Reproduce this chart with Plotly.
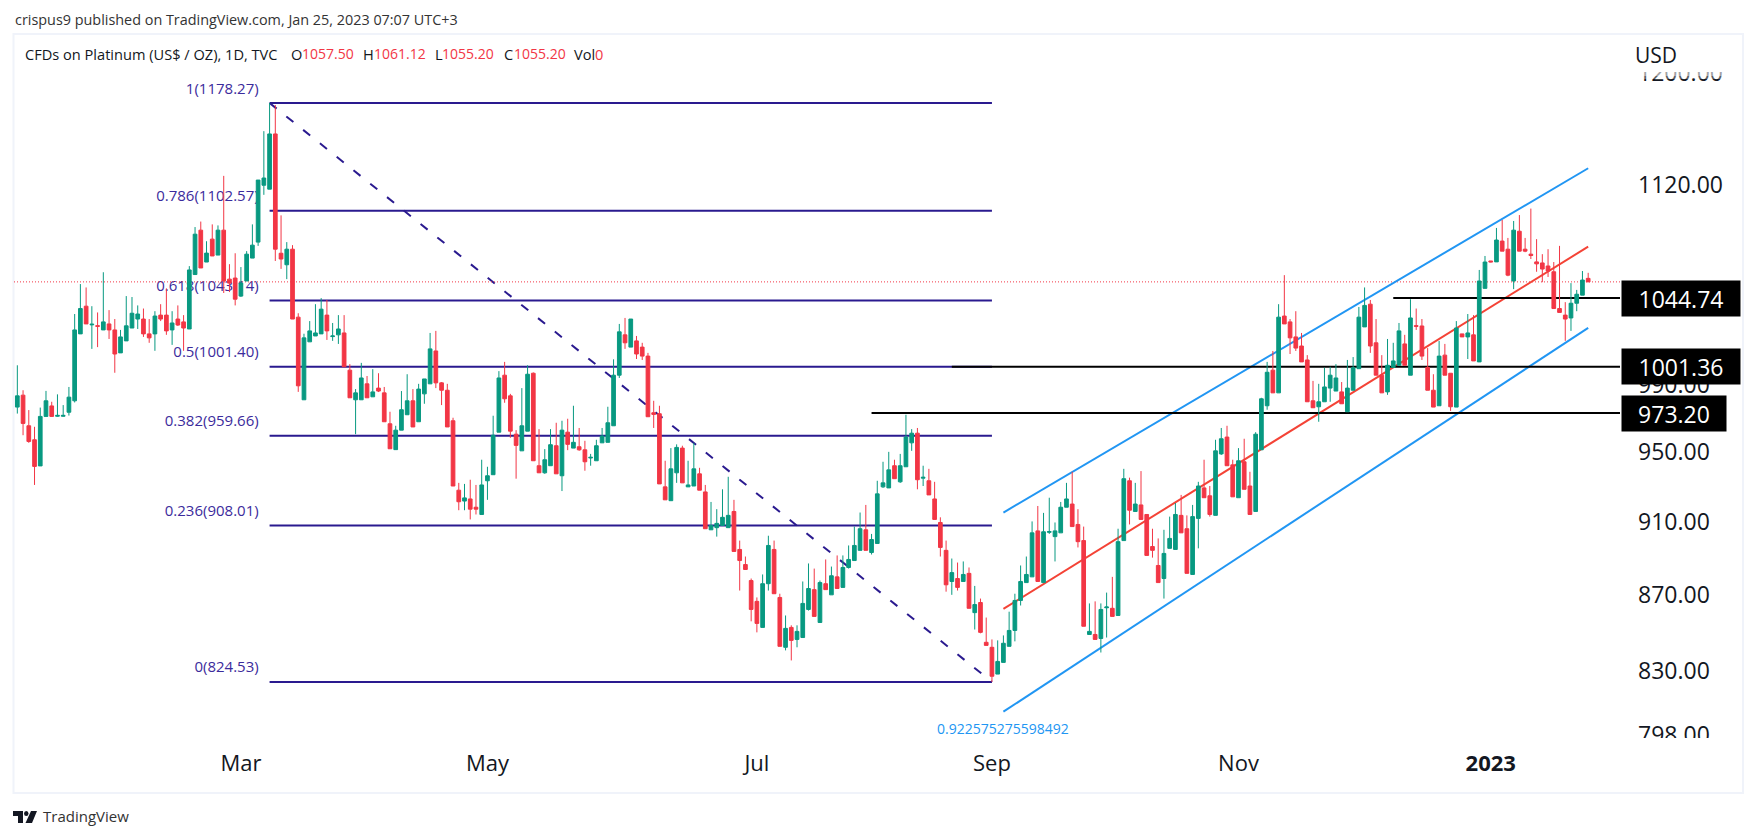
import math
import plotly.graph_objects as go

# daily bars
opens = [
    957, 976.8, 984, 965.6, 957.3, 942, 971.2, 977.5, 971.3, 971.3,
    973.7, 980.6, 1021.9, 1039.5, 1027.6, 1027.1, 1024.4, 1028.2, 1024.4, 1010,
    1017.5, 1025.6, 1031.3, 1031.3, 1021.9, 1021.9, 1033.8, 1033.8, 1024.4, 1031.3,
    1029.5, 1025, 1060, 1089.4, 1068.2, 1083.4, 1072.8, 1089.4, 1057, 1057.7,
    1046, 1055.8, 1070.8, 1081.4, 1120, 1117.3, 1156, 1074, 1066.4, 1076.7,
    1032.5, 981.2, 1016.9, 1020.6, 1021.9, 1033.8, 1020.2, 1021.3, 1022.5, 999.3,
    981.2, 981.2, 990.9, 983, 988.3, 985.4, 966.8, 951.5, 963, 972.2,
    980.6, 968, 984.8, 990.9, 1011.2, 991.5, 987, 968.6, 928, 921.8,
    923, 918.3, 914.2, 933.4, 936.9, 961.8, 996.2, 983.6, 960.6, 950.8,
    962.4, 997.4, 942.1, 938, 942.1, 953.8, 936.3, 961.8, 952.4, 953.2,
    951.4, 946.6, 945, 955.5, 955.8, 965.6, 996.2, 1021.3, 1013.6, 1017.5,
    1013.6, 1008, 973.4, 972.8, 929.9, 922, 938, 952.4, 929.9, 930.4,
    937.4, 927, 905.6, 906.8, 908, 906.8, 915.9, 894.7, 886.4, 877.7,
    866.5, 852.7, 876, 894.7, 868.6, 842.3, 852.7, 846.4, 847.4, 862.2,
    872.8, 855.3, 876, 870, 879.7, 874, 884.8, 888.6, 894.2, 905.6,
    893, 898, 929.9, 929.3, 942.1, 932.8, 941.5, 955.5, 961.2, 934.9,
    933.4, 923, 909.7, 894.2, 877.2, 878.8, 877.2, 881.6, 860.5, 865.9,
    844.9, 842.3, 828.5, 834.5, 842.8, 851.1, 867, 876.6, 879.7, 905,
    876.6, 904.2, 901.8, 903.9, 918.3, 920.1, 908.6, 899.6, 849, 849,
    846.9, 863.1, 862.8, 859, 899.6, 933.4, 915.9, 919.6, 914.2, 896.3,
    885.9, 878.8, 895.3, 894.7, 913.7, 906.2, 881, 912, 929.3, 924.8,
    913.7, 949, 958.9, 942.6, 923.7, 944.4, 930.4, 915.9, 951.4, 977.6,
    999.3, 985.4, 1033.2, 1029.5, 1020, 1014.3, 1005.6, 980.6, 977, 980,
    988.3, 986.5, 986, 974, 987, 1000.2, 1026.3, 1040.8, 1016.3, 996.2,
    986, 1001, 1002.3, 1015.6, 996.2, 1027.1, 1026.9, 1001, 987, 977.6,
    1008.6, 997.4, 976.8, 1021.9, 1020, 1021.3, 1004.4, 1051, 1068.9, 1068.3,
    1082.1, 1076.7, 1055.8, 1088.7, 1076.7, 1073.4, 1068.3, 1067.6, 1065.6, 1061.8,
    1038, 1033.8, 1032, 1041.4, 1046.6, 1057.5,
]
highs = [
    975, 1002.3, 987, 975, 965, 976.5, 986.6, 980, 984.5, 978,
    989, 1034.5, 1053.8, 1051.6, 1039.5, 1035.5, 1061.5, 1037, 1031.3, 1024.4,
    1046, 1045.4, 1040, 1038, 1031.3, 1036.3, 1040.8, 1051, 1036.3, 1040,
    1033.8, 1065.5, 1091.5, 1095.2, 1082, 1093.3, 1092.6, 1126.5, 1066.8, 1074,
    1064.9, 1075.4, 1093.3, 1123.6, 1158, 1178.27, 1176.8, 1099.4, 1081.4, 1079.4,
    1035, 1022, 1030, 1040.8, 1044.7, 1043.5, 1028.8, 1033.8, 1033.8, 1003,
    987.7, 1003.8, 995.7, 999.9, 997.4, 989, 974, 965.6, 986.5, 996.8,
    987.7, 990.9, 993.9, 1022.5, 1023.8, 992, 990.9, 970.4, 932.2, 931.6,
    934, 931, 945.6, 941.5, 971.6, 998.7, 1004.4, 984.8, 963, 988.3,
    1002.3, 997.9, 963.6, 951.8, 963.6, 967.4, 968.6, 969.8, 977.6, 964.3,
    956.7, 949, 957.3, 964.3, 977, 1006, 1028.2, 1032, 1031.3, 1020.6,
    1016.3, 1010, 980.6, 977.6, 945, 952.4, 954.6, 953.8, 945, 955.5,
    940.9, 931, 921.3, 917.2, 928.5, 935.7, 922.5, 899.6, 890.8, 878.8,
    868.6, 881, 902.3, 899.6, 870.6, 859, 853.8, 853.8, 877.2, 887,
    884.2, 877.7, 889.2, 885.3, 891.4, 891.4, 896.9, 907.4, 915.3, 919.6,
    903.3, 933.4, 944.4, 950.2, 945.6, 949, 972.2, 963.6, 964.3, 942.1,
    940.3, 932.8, 912.6, 899.6, 889.7, 887.5, 888.1, 884.8, 874.8, 868,
    857.9, 846.4, 845.9, 848.5, 861, 870.6, 885.9, 890.8, 910.3, 919,
    915.1, 923.7, 909.7, 921.3, 932.2, 938.6, 917.2, 907.4, 865.4, 866.5,
    865.4, 871.2, 879.7, 906.2, 940.3, 935.2, 932.2, 939, 914.2, 906.2,
    900.8, 905.6, 913, 920.7, 925.3, 913.7, 919.6, 932.8, 945.6, 930.4,
    957.3, 964.3, 965.6, 945.6, 952.4, 957.9, 938.6, 961.8, 982.4, 1004.4,
    1011.2, 1040.8, 1059.6, 1031.3, 1036.3, 1022.5, 1008.6, 992.7, 990.9, 1000.8,
    1001.4, 1003, 992, 1005.6, 1007.4, 1039, 1051.6, 1043.5, 1031.3, 1008.6,
    1018.7, 1016.3, 1028.8, 1021.3, 1044, 1038, 1031.3, 1013, 996.8, 1017.5,
    1015.6, 997.4, 1030, 1021.9, 1034.5, 1033.8, 1063, 1072.2, 1068.9, 1090.9,
    1096.3, 1084.2, 1095.6, 1099.6, 1084.2, 1104, 1083.4, 1073.4, 1076.7, 1068.2,
    1078.9, 1042.1, 1054.4, 1050, 1062.3, 1061.12,
]
lows = [
    955.5, 972.9, 960, 955.5, 931, 942, 971.2, 971, 971, 971,
    971.7, 979.6, 1021.9, 1028.2, 1012.5, 1013.6, 1024.4, 1018.7, 997.7, 1010,
    1017.5, 1025.6, 1025, 1020, 1016.3, 1011.3, 1030, 1021.3, 1015, 1026.9,
    1011.3, 1025, 1060, 1064.3, 1068.2, 1072.2, 1072.8, 1048, 1048.6, 1040,
    1045.4, 1055.8, 1070.8, 1078.9, 1113.4, 1117.3, 1068.9, 1063.7, 1057, 1031.3,
    986, 981.2, 1016.9, 1020.6, 1021.9, 1018.1, 1017.5, 1015.6, 1001.4, 982.4,
    960.6, 981.2, 982.4, 983, 985.9, 968, 952, 951.5, 963, 972.2,
    964.9, 968, 978.8, 990.9, 988.3, 978, 964.9, 930.4, 916.6, 916.6,
    911.4, 914.2, 914.2, 922.5, 936.9, 961.8, 979.4, 958.5, 934.6, 950.8,
    962.4, 945, 938, 937.4, 942.1, 937.4, 927.5, 951.2, 952.4, 950.8,
    939.2, 942.1, 945, 955.5, 955.8, 965.6, 994.5, 1012.5, 1013.6, 1006.2,
    1005.6, 971, 964.3, 931.6, 922.5, 922, 932.2, 932.2, 929.9, 930.4,
    928, 906.2, 905.6, 901.8, 908, 906.8, 893.6, 872.3, 883.7, 855.9,
    850.1, 852.7, 872.3, 870.6, 842.8, 840.7, 835.5, 842.3, 847.4, 861.6,
    858.5, 855.3, 872.8, 870, 873.4, 874, 884.2, 888.6, 894.2, 894.2,
    891.9, 898, 929.3, 929.3, 934.6, 932.2, 941.5, 950.8, 928.5, 930.4,
    925.3, 911.4, 890.8, 871.7, 870, 872.3, 877.2, 862.8, 851.6, 849.6,
    843.3, 824.53, 828.5, 834.5, 842.8, 845.4, 864.3, 876.6, 879.7, 877.2,
    876.6, 903.3, 888.1, 903.9, 918.3, 907.4, 895.8, 853.3, 849, 846.4,
    839.6, 847.4, 858.5, 859, 899.6, 908.6, 915.9, 911.4, 891.4, 890.2,
    876.6, 868, 895.3, 894.7, 903.9, 881.6, 881, 895.3, 923.7, 913,
    913.7, 948.4, 942.1, 924.2, 923.7, 928.5, 914.2, 915.9, 951.4, 975.2,
    985.4, 985.4, 1028.2, 1009.3, 1011.2, 1004.4, 980, 976.4, 968, 980,
    980, 986.5, 978.8, 974, 987, 1000.2, 1026.3, 1010, 996.2, 985.4,
    984.2, 1001, 1002.3, 1002.3, 996.2, 1024.4, 1005.6, 987, 976.8, 977.6,
    996.2, 974.5, 976.8, 1020, 1006.2, 1005, 1004.4, 1051, 1068, 1068.3,
    1075.4, 1058.9, 1050.5, 1075.4, 1074.7, 1070.2, 1061.8, 1055, 1058.4, 1038,
    1035.5, 1017.5, 1023.8, 1036.3, 1046.6, 1055.2,
]
closes = [
    973, 983.6, 967, 956.3, 941.7, 971.2, 980.6, 971.2, 971.8, 971.8,
    982.8, 1024.4, 1038, 1028.2, 1028, 1026.7, 1029.5, 1024.4, 1009.3, 1020,
    1027, 1035, 1034.5, 1021.9, 1019.4, 1033.2, 1031.3, 1023.8, 1028.8, 1027.5,
    1025.6, 1063, 1086.7, 1064.3, 1074.1, 1072.2, 1089.4, 1055.8, 1054.4, 1044,
    1054.4, 1073.4, 1079.4, 1123.6, 1125, 1156, 1076.7, 1070.2, 1076.7, 1031.3,
    989.7, 1019.4, 1023.8, 1022.5, 1037.6, 1023.8, 1020.6, 1025, 1001.4, 982.4,
    985.4, 994.5, 982.4, 986, 986.5, 968, 952, 963, 975.2, 980.6,
    964.9, 987.7, 993.9, 1012.5, 991.5, 987, 964.9, 930.4, 921.4, 923.6,
    917.2, 917.2, 931, 936.3, 960, 994.5, 981.8, 962.4, 954, 965.6,
    996.8, 945, 938, 945.6, 954.4, 937.4, 963, 954.6, 955.8, 951.4,
    944.4, 947, 953.8, 959.5, 967.4, 996.2, 1023.2, 1016.3, 1031.3, 1009.3,
    1008, 971, 972.4, 931.6, 922.5, 940.3, 952.8, 932.2, 931, 940.3,
    928, 906.2, 908, 909.2, 912.6, 913.7, 893.6, 888.6, 883.7, 862.2,
    854.8, 876, 896.9, 870.6, 842.8, 852.2, 845.9, 850.6, 865.4, 873.4,
    858.5, 876.6, 872.8, 880.3, 873.4, 884.8, 889.2, 896.9, 906.2, 894.2,
    900.2, 925.9, 932.2, 939.7, 934.6, 942.1, 958.9, 961.2, 934, 935.4,
    925.3, 911.4, 895.8, 875.4, 882, 874, 881, 862.8, 864.8, 850.1,
    843.3, 827.4, 835, 844.4, 851.1, 867, 877.2, 881, 903.9, 877.2,
    904.5, 904.6, 905, 918.3, 923, 907.4, 899, 853.3, 850.6, 846.4,
    862.2, 863.5, 858.5, 899, 934.6, 916.6, 920.1, 911.4, 891.4, 894.2,
    876.6, 892.5, 900.8, 914.2, 903.9, 881.6, 913, 930.4, 923.7, 914.2,
    950.8, 957.9, 942.1, 924.2, 945, 928.5, 914.2, 960.6, 981.8, 998,
    985.4, 1032.5, 1028.2, 1019.4, 1013, 1004.4, 980, 976.4, 980, 989,
    996.2, 994.5, 978.8, 988.3, 1000.8, 1032.5, 1040, 1014.3, 996.2, 985.4,
    1002.3, 1005, 1023.8, 1002.3, 1032, 1026.7, 1008, 987, 976.8, 1008,
    996.2, 977, 1025.6, 1020, 1022.5, 1005, 1055.8, 1068.2, 1068.3, 1082.8,
    1075.4, 1059.6, 1089.4, 1075.4, 1075.4, 1072.5, 1067, 1063.6, 1062.3, 1038,
    1035.5, 1031.3, 1041.4, 1047.2, 1056.4, 1055.2,
]
bars = list(range(len(opens)))

month_bars = [40, 83, 130, 171, 214, 258]
month_labels = ["Mar", "May", "Jul", "Sep", "Nov", "<b>2023</b>"]
price_ticks = [798, 830, 870, 910, 950, 990, 1120, 1200]

# fib retracement
fib_bars = [45, 171]
fib_ratios = ["1", "0.786", "0.618", "0.5", "0.382", "0.236", "0"]
fib_prices = [1178.27, 1102.57, 1043.14, 1001.40, 959.66, 908.01, 824.53]

# regression channel
channel_bars = [173, 275]
channel_upper = [915.3, 1131.8]
channel_mid = [862.5, 1078.4]
channel_lower = [809.5, 1025.7]
channel_note = "0.922575275598492"

# horizontal levels and where each one starts
level_prices = [1044.74, 1001.36, 973.20]
level_starts = [241, 164, 150]

last_ohlc = [1057.50, 1061.12, 1055.20, 1055.20]

GREEN = "#089981"
RED = "#f23645"
FIB = "#2a1a8f"
BLUE = "#2196f3"
TEXT = "#131722"
FONT = "Open Sans"

# plot area in page pixels
W, H = 1756, 838
L, R, T, B = 14, 1620, 34, 740
def px(x): return (x - L) / (R - L)
def py(y): return (B - y) / (B - T)

x_range = [0.42, 280.55]
y_range = [math.log10(795.5), math.log10(1229.5)]

fig = go.Figure()

# everything on the main axes sits behind the candles
for price in fib_prices:
    fig.add_trace(go.Scatter(x=fib_bars, y=[price, price], mode="lines",
                             line=dict(color=FIB, width=2)))
fig.add_trace(go.Scatter(x=fib_bars, y=[fib_prices[0], fib_prices[-1]], mode="lines",
                         line=dict(color=FIB, width=2, dash="9px,12.5px")))
# labels float a few pixels above their lines
fig.add_trace(go.Scatter(x=[fib_bars[0] - 1.9] * len(fib_prices), y=[p * 1.0035 for p in fib_prices], mode="text",
                         text=[f"{r}({p:.2f})" for r, p in zip(fib_ratios, fib_prices)],
                         textposition="top left",
                         textfont=dict(family=FONT, size=15, color="#3b2b9c")))
fig.add_trace(go.Scatter(x=x_range, y=[last_ohlc[3]] * 2, mode="lines",
                         line=dict(color=RED, width=1, dash="1px,2px")))
for vals, col in [(channel_upper, BLUE), (channel_mid, "#f44336"), (channel_lower, BLUE)]:
    fig.add_trace(go.Scatter(x=channel_bars, y=vals, mode="lines",
                             line=dict(color=col, width=2)))
for start, price in zip(level_starts, level_prices):
    fig.add_trace(go.Scatter(x=[start, x_range[1]], y=[price, price], mode="lines",
                             line=dict(color="#000000", width=2)))

fig.add_trace(go.Candlestick(
    x=bars, open=opens, high=highs, low=lows, close=closes,
    xaxis="x2", yaxis="y2",
    increasing=dict(line=dict(color=GREEN, width=1), fillcolor=GREEN),
    decreasing=dict(line=dict(color=RED, width=1), fillcolor=RED),
))

shapes = [
    dict(type="rect", xref="paper", yref="paper", x0=px(13.5), x1=px(1743), y0=py(34), y1=py(793),
         line=dict(color="#f0f3fa", width=2), layer="below"),
    # price scale labels get cut off at the ends of the pane
    dict(type="rect", xref="paper", yref="paper", x0=px(1625), x1=px(1741), y0=py(72), y1=py(50),
         fillcolor="white", line=dict(width=0), layer="above"),
    dict(type="rect", xref="paper", yref="paper", x0=px(1625), x1=px(1741), y0=py(76), y1=py(72),
         fillcolor="rgba(255,255,255,0.6)", line=dict(width=0), layer="above"),
    dict(type="rect", xref="paper", yref="paper", x0=px(1625), x1=px(1741), y0=py(79), y1=py(76),
         fillcolor="rgba(255,255,255,0.3)", line=dict(width=0), layer="above"),
    dict(type="rect", xref="paper", yref="paper", x0=px(1625), x1=px(1741), y0=py(758), y1=py(738),
         fillcolor="white", line=dict(width=0), layer="above"),
]
# little TV logo
def poly(pts):
    xs = [f"{'M' if i == 0 else 'L'}{px(p[0]):.5f},{py(p[1]):.5f}" for i, p in enumerate(pts)]
    return " ".join(xs) + " Z"
shapes += [
    dict(type="path", xref="paper", yref="paper", path=poly([(13, 811), (23, 811), (23, 823), (18, 823), (18, 816), (13, 816)]),
         fillcolor="#131722", line=dict(width=0)),
    dict(type="circle", xref="paper", yref="paper", x0=px(24), x1=px(28.5), y0=py(816), y1=py(811),
         fillcolor="#131722", line=dict(width=0)),
    dict(type="path", xref="paper", yref="paper", path=poly([(31, 811), (37, 811), (32, 823), (25.5, 823)]),
         fillcolor="#131722", line=dict(width=0)),
]

annotations = []
def note(x, y, text, size=14, color=TEXT, **kw):
    annotations.append(dict(xref="paper", yref="paper", x=px(x), y=py(y), text=text, showarrow=False,
                            xanchor=kw.pop("xanchor", "left"), yanchor="middle",
                            font=dict(family=FONT, size=size, color=color), **kw))

note(13, 20, "crispus9 published on TradingView.com, Jan 25, 2023 07:07 UTC+3", size=14.4, color="#333333")
note(23, 54, "CFDs on Platinum (US$ / OZ), 1D, TVC", size=14.6)
for x, lab, val, x_val in zip([289, 360.5, 432.5, 501.7], "OHLC", last_ohlc, [299.5, 371.5, 440, 512]):
    note(x, 54, lab, size=14.6)
    note(x_val, 54, f"{val:.2f}", size=14, color=RED)
note(572, 54, "Vol", size=14.6)
note(593, 54, "0", size=14.6, color=RED)
note(1633, 55, "USD", size=21)
note(41, 816, "TradingView", size=15, color="#333333")

# channel note under the first point of the lower line
annotations.append(dict(x=channel_bars[0], y=math.log10(channel_lower[0]), text=channel_note, showarrow=False,
                        yshift=-17, xanchor="center", yanchor="middle",
                        font=dict(family=FONT, size=14, color=BLUE)))

# black price labels on the scale
for price, wid in zip(level_prices, [118, 118, 104]):
    annotations.append(dict(xref="paper", x=px(1621), y=math.log10(price), yref="y", text=f"{price:.2f}",
                            showarrow=False, xanchor="left", yanchor="middle", width=wid, height=35,
                            bgcolor="#000000", borderpad=0, align="center", valign="middle",
                            font=dict(family=FONT, size=23, color="#ffffff")))

fig.update_layout(
    width=W, height=H,
    margin=dict(l=L, r=W - R, t=T, b=H - B),
    paper_bgcolor="white", plot_bgcolor="white",
    showlegend=False, hovermode=False, dragmode=False,
    boxgap=0.08,
    shapes=shapes, annotations=annotations,
    xaxis=dict(range=x_range, tickvals=month_bars, ticktext=month_labels, showgrid=False, zeroline=False,
               ticks="", showline=False, tickfont=dict(family=FONT, size=22, color=TEXT), ticklabelstandoff=8),
    yaxis=dict(type="log", range=y_range, side="right", tickvals=price_ticks,
               ticktext=[f"{t:.2f}" for t in price_ticks], showgrid=False, zeroline=False,
               ticks="", showline=False, tickfont=dict(family=FONT, size=23, color=TEXT), ticklabelstandoff=17),
    xaxis2=dict(overlaying="x", range=x_range, visible=False, rangeslider=dict(visible=False)),
    yaxis2=dict(overlaying="y", type="log", range=y_range, visible=False),
)

fig.write_html("out.html", config=dict(displayModeBar=False), post_script="document.body.style.margin='0'")
